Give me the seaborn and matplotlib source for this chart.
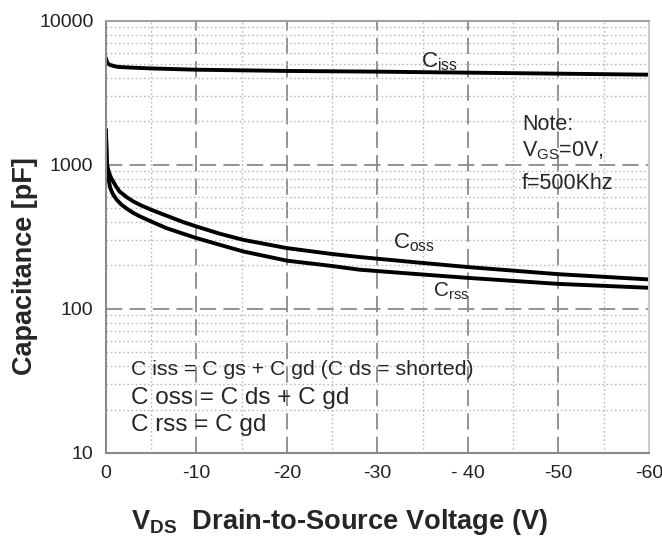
import numpy as np
import pandas as pd
import matplotlib
matplotlib.use("Agg")
import matplotlib.pyplot as plt
import seaborn as sns
from matplotlib.ticker import FixedLocator, LogLocator, NullFormatter

# ---- data ----
ciss_v = [0, -0.15, -0.44, -1, -1.5, -3, -5, -10, -20, -30, -40, -50, -60]
ciss_c = [5500, 5080, 4940, 4820, 4770, 4720, 4665, 4570, 4480, 4430, 4360, 4290, 4220]

coss_v = [0, -0.03, -0.08, -0.15, -0.3, -0.44, -0.6, -0.8, -1.1, -1.5, -2.28, -3, -3.76,
          -5, -6.7, -8.55, -10, -12.6, -15.2, -20, -24.8, -28, -34, -40, -50, -60]
coss_c = [1750, 1450, 1150, 980, 900, 850, 805, 766, 710, 653, 597, 558, 527,
          487, 443, 400, 373, 332, 301, 264, 241, 229, 211, 195, 174, 160]

crss_v = [0, -0.03, -0.08, -0.15, -0.3, -0.44, -0.6, -0.81, -1.2, -1.7, -2.28, -3, -3.76,
          -5, -6.7, -8.55, -10, -12.6, -15.2, -20, -24.8, -28, -34, -40, -50, -60]
crss_c = [1750, 1450, 1120, 940, 790, 706, 660, 620, 571, 530, 497, 464, 438,
          404, 363, 332, 310, 278, 250, 216, 199, 187, 175, 164, 149, 140]

x_ticks = [0, -10, -20, -30, -40, -50, -60]
x_tick_labels = ["0", "-10", "-20", "-30", "- 40", "-50", "-60"]
y_ticks = [10, 100, 1000, 10000]
y_tick_labels = ["10", "100", "1000", "10000"]

df = pd.concat([
    pd.DataFrame({"V": ciss_v, "C": ciss_c, "series": "Ciss"}),
    pd.DataFrame({"V": coss_v, "C": coss_c, "series": "Coss"}),
    pd.DataFrame({"V": crss_v, "C": crss_c, "series": "Crss"}),
], ignore_index=True)

sns.set_theme(style="white")
plt.rcParams["font.family"] = ["Liberation Sans", "DejaVu Sans"]
plt.rcParams["mathtext.fontset"] = "custom"
plt.rcParams["mathtext.rm"] = "Liberation Sans"
plt.rcParams["mathtext.it"] = "Liberation Sans"
plt.rcParams["mathtext.bf"] = "Liberation Sans:bold"

fig = plt.figure(figsize=(6.62, 5.45), dpi=100)
ax = fig.add_axes([0.160, 0.169, 0.820, 0.793])

sns.lineplot(data=df, x="V", y="C", hue="series", units="series", estimator=None,
             sort=False, palette=["black", "black", "black"], linewidth=2.8,
             legend=False, ax=ax)

ax.set_yscale("log")
ax.set_xlim(0, -60)
ax.set_ylim(10, 10000)

ax.xaxis.set_major_locator(FixedLocator(x_ticks))
ax.set_xticklabels(x_tick_labels)
ax.xaxis.set_minor_locator(FixedLocator([-5, -15, -25, -35, -45, -55]))
ax.yaxis.set_major_locator(FixedLocator(y_ticks))
ax.set_yticklabels(y_tick_labels)
ax.yaxis.set_minor_locator(LogLocator(base=10, subs=np.arange(2, 10)))
ax.yaxis.set_minor_formatter(NullFormatter())

ax.grid(which="major", linestyle=(0, (9, 4)), color="#8a8a8a", linewidth=1.3)
ax.grid(which="minor", linestyle=(0, (1.2, 1.8)), color="#bababa", linewidth=1.0)
ax.set_axisbelow(True)

for s in ax.spines.values():
    s.set_color("#8a8a8a")
    s.set_linewidth(1.5)
ax.spines["right"].set_color("#c8c8c8")
ax.spines["top"].set_color("#a0a0a0")

ax.tick_params(which="major", direction="out", length=6, width=1.3, color="#7a7a7a",
               labelsize=14, labelcolor="#222222", pad=3)
ax.tick_params(which="minor", length=0)
ax.tick_params(axis="x", pad=3)

ax.set_ylabel("Capacitance [pF]", fontsize=19.5, fontweight="bold")
ax.yaxis.set_label_coords(-0.126, 0.433)
ax.set_xlabel(r"$\mathbf{V_{DS}}$  Drain-to-Source Voltage (V)", fontsize=19.6,
              fontweight="bold")
ax.xaxis.set_label_coords(0.43, -0.125)

# curve labels
ax.text(-34.8, 4750, r"$\mathregular{C_{iss}}$", fontsize=16, ha="left", va="baseline")
ax.text(-31.7, 262, r"$\mathregular{C_{oss}}$", fontsize=16, ha="left", va="baseline")
ax.text(-36.2, 121, r"$\mathregular{C_{rss}}$", fontsize=15, ha="left", va="baseline")

# note
ax.text(-46.0, 1740, "Note:", fontsize=15.5, ha="left", va="baseline")
ax.text(-46.0, 1150, r"$\mathregular{V_{GS}}$=0V,", fontsize=15.5, ha="left", va="baseline")
ax.text(-46.0, 680, "f=500Khz", fontsize=15.5, ha="left", va="baseline")

# formulas
ax.text(-2.8, 34.5, "C iss = C gs + C gd (C ds = shorted)", fontsize=15.3, ha="left", va="baseline")
ax.text(-2.8, 22.0, "C oss = C ds + C gd", fontsize=17.5, ha="left", va="baseline")
ax.text(-2.8, 14.1, "C rss = C gd", fontsize=17.5, ha="left", va="baseline")

fig.savefig("out.png", dpi=100)
